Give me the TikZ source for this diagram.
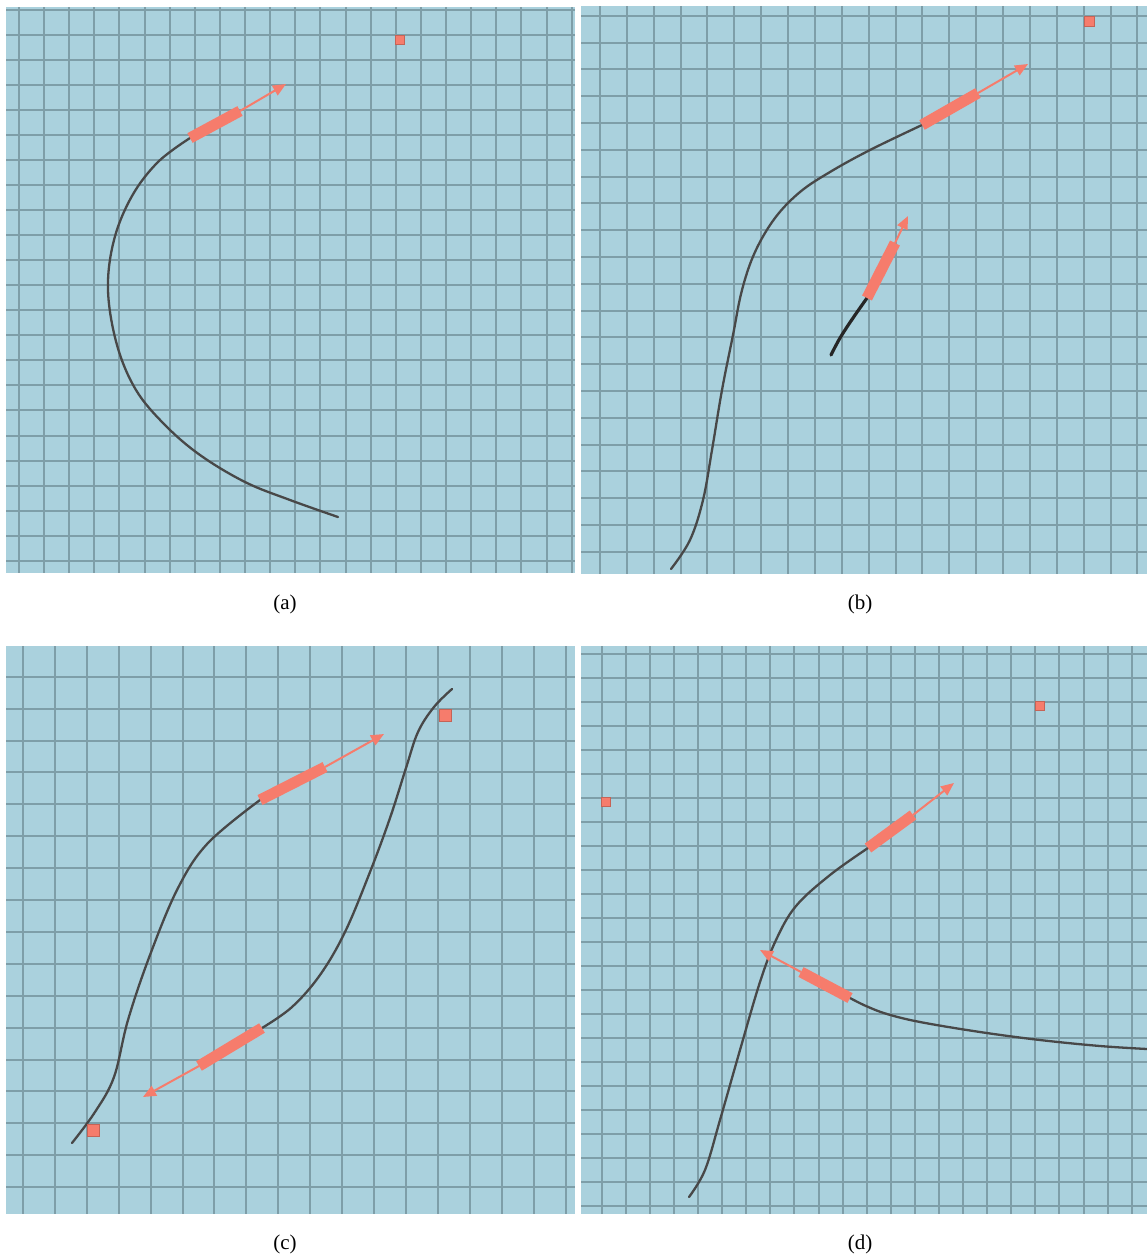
\documentclass[tikz,border=0pt]{standalone}
\usepackage{fontspec}
\setmainfont{Liberation Serif}
\usetikzlibrary{arrows.meta}
\definecolor{bgblue}{RGB}{170,209,221}
\definecolor{gridc}{RGB}{126,158,168}
\definecolor{salm}{RGB}{246,124,108}
\definecolor{curvec}{RGB}{72,72,72}
\tikzset{
  gridln/.style={gridc, line width=2pt},
  curve/.style={curvec, line width=2.3pt, line cap=round},
  bar/.style={salm, line width=11pt},
  vec/.style={salm, line width=2pt, -{Triangle[length=13pt,width=11pt]}},
  target/.style={fill=salm, draw=salm!80!black, line width=0.6pt},
  captxt/.style={font=\fontsize{21}{25}\selectfont}
}
\newcommand{\mygridpanel}[8]{%
  \fill[bgblue] (#1,#2) rectangle (#3,#4);
  \begin{scope}
    \clip (#1,#2) rectangle (#3,#4);
    \foreach \k in {-1,...,25} {
      \pgfmathsetmacro\xx{#5+\k*#6}
      \draw[gridln] (\xx,#2) -- (\xx,#4);
      \pgfmathsetmacro\yy{#7+\k*#8}
      \draw[gridln] (#1,\yy) -- (#3,\yy);
    }
  \end{scope}
}
\begin{document}
\begin{tikzpicture}[x=1pt,y=-1pt]
\useasboundingbox (0,0) rectangle (1147,1259);
\fill[white] (0,0) rectangle (1147,1259);
% panels
\mygridpanel{6}{7}{575}{573}{19}{25.12}{10}{25.03}
\mygridpanel{581}{6}{1147}{574}{600}{26.87}{15.7}{26.8}
\mygridpanel{6}{646}{575}{1214}{22.7}{31.96}{676.7}{31.9}
\mygridpanel{581}{646}{1147}{1214}{601.7}{24.09}{654}{24.01}

% ---------- (a)
\coordinate (a1) at (190,138);
\coordinate (a2) at (240,111);
\coordinate (a3) at (286,84);
\draw[curve] plot[smooth, tension=0.6] coordinates {(338,517) (290,500) (245,482) (200,455) (165,425) (136,390) (117,345) (108,290) (114,240) (132,196) (158,162) (190,138)};
\draw[bar] (a1) -- (a2);
\draw[vec] (a2) -- (a3);
\node[target, minimum size=9pt, inner sep=0pt] (ta) at (400,40) {};

% ---------- (b)
\coordinate (b1) at (922,125);
\coordinate (b2) at (978,93);
\coordinate (b3) at (1028,64);
\draw[curve] plot[smooth, tension=0.6] coordinates {(671,569) (690,540) (703,500) (712,450) (722,390) (733,335) (742,290) (755,252) (775,218) (800,192) (830,172) (870,150) (922,125)};
\draw[bar] (b1) -- (b2);
\draw[vec] (b2) -- (b3);
\coordinate (b4) at (867,298);
\coordinate (b5) at (895,243);
\coordinate (b6) at (908,216);
\draw[black!85, line width=3.2pt, line cap=round] plot[smooth, tension=0.6] coordinates {(831,355) (840,338) (853,318) (867,298)};
\draw[bar] (b4) -- (b5);
\draw[vec] (b5) -- (b6);
\node[target, minimum size=10pt, inner sep=0pt] (tb) at (1089,21) {};

% ---------- (c)
\coordinate (c1) at (260,800);
\coordinate (c2) at (325,767);
\coordinate (c3) at (384,734);
\draw[curve] plot[smooth, tension=0.6] coordinates {(72,1143) (95,1112) (114,1077) (128,1020) (150,955) (178,888) (208,843) (260,800)};
\draw[bar] (c1) -- (c2);
\draw[vec] (c2) -- (c3);
\coordinate (c4) at (262,1028);
\coordinate (c5) at (199,1066);
\coordinate (c6) at (143,1097);
\draw[curve] plot[smooth, tension=0.6] coordinates {(452,689) (434,707) (418,732) (406,768) (390,818) (370,872) (345,932) (320,975) (292,1007) (262,1028)};
\draw[bar] (c4) -- (c5);
\draw[vec] (c5) -- (c6);
\node[target, minimum size=12pt, inner sep=0pt] (tc1) at (445,715) {};
\node[target, minimum size=12pt, inner sep=0pt] (tc2) at (93,1130) {};

% ---------- (d)
\coordinate (d1) at (868,848);
\coordinate (d2) at (913,815);
\coordinate (d3) at (954,783);
\draw[curve] plot[smooth, tension=0.6] coordinates {(689,1197) (705,1170) (720,1120) (740,1050) (760,982) (776,940) (796,906) (830,875) (868,848)};
\draw[bar] (d1) -- (d2);
\draw[vec] (d2) -- (d3);
\coordinate (d4) at (850,998);
\coordinate (d5) at (801,972);
\coordinate (d6) at (760,950);
\draw[curve] plot[smooth, tension=0.6] coordinates {(1147,1049) (1100,1046) (1040,1040) (980,1032) (920,1022) (887,1014) (866,1006) (850,998)};
\draw[bar] (d4) -- (d5);
\draw[vec] (d5) -- (d6);
\node[target, minimum size=9pt, inner sep=0pt] (td1) at (1040,706) {};
\node[target, minimum size=9pt, inner sep=0pt] (td2) at (606,802) {};

% captions
\node[captxt] (la) at (285,604) {(a)};
\node[captxt] (lb) at (860,604) {(b)};
\node[captxt] (lc) at (285,1244) {(c)};
\node[captxt] (ld) at (860,1244) {(d)};
\end{tikzpicture}
\end{document}
